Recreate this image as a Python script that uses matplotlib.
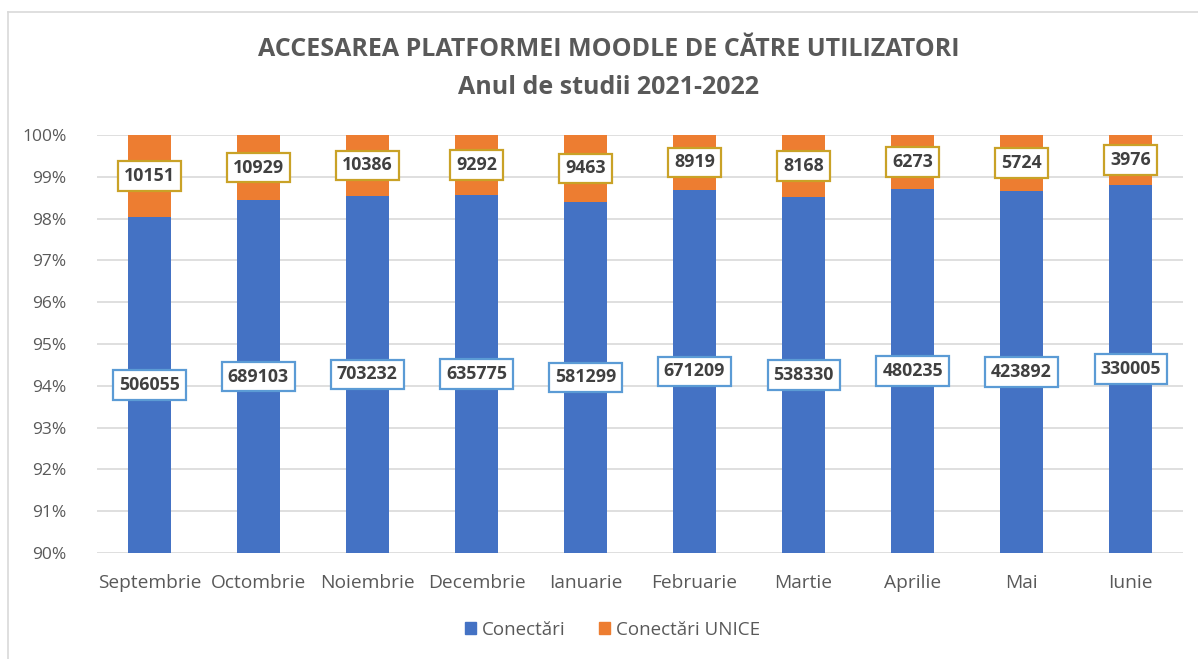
import matplotlib
matplotlib.use("Agg")
import matplotlib.pyplot as plt
from matplotlib.lines import Line2D
from matplotlib.patches import Patch
import numpy as np

months = ["Septembrie", "Octombrie", "Noiembrie", "Decembrie", "Ianuarie",
          "Februarie", "Martie", "Aprilie", "Mai", "Iunie"]
conectari = [506055, 689103, 703232, 635775, 581299, 671209, 538330, 480235, 423892, 330005]
unice = [10151, 10929, 10386, 9292, 9463, 8919, 8168, 6273, 5724, 3976]

plt.rcParams['font.family'] = ['Open Sans', 'DejaVu Sans']

BLUE = "#4472C4"
ORANGE = "#ED7D31"
TXT = "#595959"

fig = plt.figure(figsize=(11.98, 6.59), dpi=100)
ax = fig.add_axes([97/1198, 1-553/659, (1183-97)/1198, (553-135)/659])

c = np.array(conectari, dtype=float)
u = np.array(unice, dtype=float)
tot = c + u
pc = c / tot * 100
pu = u / tot * 100
x = np.arange(len(months))
w = 0.39
ax.bar(x, pc, w, color=BLUE, zorder=2)
ax.bar(x, pu, w, bottom=pc, color=ORANGE, zorder=2)

ymin, ymax = 90, 100
ax.set_ylim(ymin, ymax)
ax.set_xlim(-0.48, len(months) - 0.52)
ax.set_yticks(np.arange(90, 101, 1))
ax.set_yticklabels([f"{v}%" for v in range(90, 101)])
ax.set_xticks(x)
ax.set_xticklabels(months)
ax.tick_params(axis='both', length=0, colors=TXT)
ax.tick_params(axis='y', pad=22, labelsize=12.5)
ax.tick_params(axis='x', pad=15, labelsize=13.8)
ax.yaxis.grid(True, color="#D9D9D9", linewidth=1.2, zorder=0)
for s in ax.spines.values():
    s.set_visible(False)

for i in range(len(months)):
    yb = (ymin + pc[i]) / 2
    yo = (pc[i] + 100) / 2
    ax.text(x[i], yb, f"{conectari[i]}", ha='center', va='center', fontsize=12.8,
            fontweight='bold', color="#404040", zorder=5,
            bbox=dict(boxstyle='square,pad=0.33', fc='white', ec="#5B9BD5", lw=1.6))
    ax.text(x[i], yo, f"{unice[i]}", ha='center', va='center', fontsize=12.8,
            fontweight='bold', color="#404040", zorder=5,
            bbox=dict(boxstyle='square,pad=0.33', fc='white', ec="#C9A227", lw=1.6))

fig.text(0.508, 1-49/659, "ACCESAREA PLATFORMEI MOODLE DE CĂTRE UTILIZATORI",
         ha='center', va='center', fontsize=18, fontweight='bold', color=TXT)
fig.text(0.508, 1-88/659, "Anul de studii 2021-2022",
         ha='center', va='center', fontsize=18, fontweight='bold', color=TXT)

handles = [Patch(color=BLUE, label="Conectări"), Patch(color=ORANGE, label="Conectări UNICE")]
fig.legend(handles=handles, loc='center', bbox_to_anchor=(0.511, 1-630/659), ncol=2,
           frameon=False, fontsize=13.5, handlelength=0.6, handleheight=0.6,
           handletextpad=0.3, columnspacing=1.8, labelcolor=TXT)

fig.add_artist(Line2D([8/1198, 8/1198], [0, 1-12/659], color="#D9D9D9", lw=1.2))
fig.add_artist(Line2D([8/1198, 1], [1-12/659, 1-12/659], color="#D9D9D9", lw=1.2))

fig.savefig("out.png", dpi=100)
